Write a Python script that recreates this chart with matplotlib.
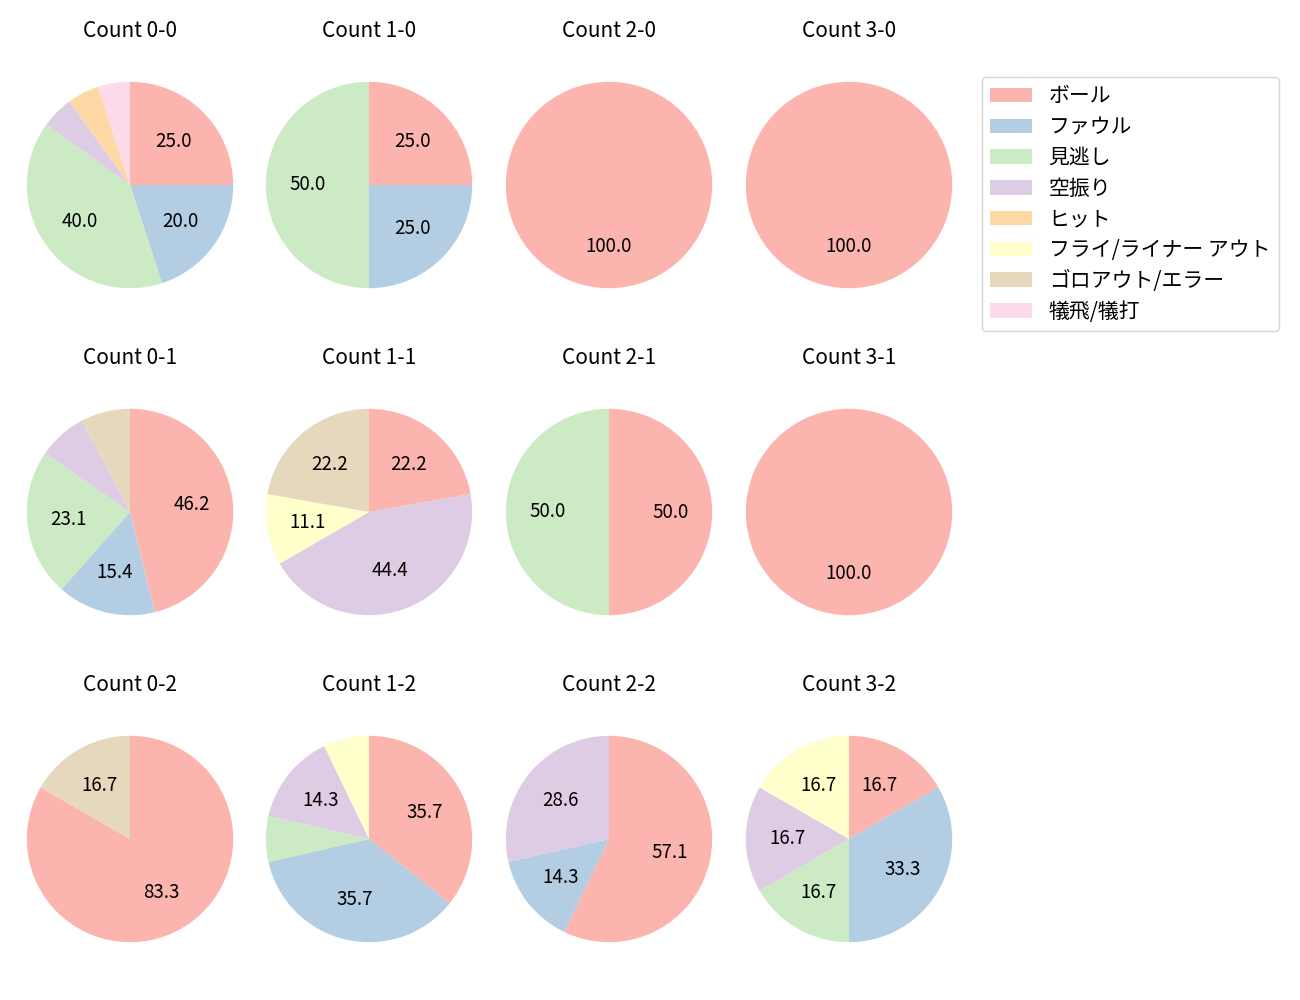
import numpy as np
import matplotlib
matplotlib.use("Agg")
import matplotlib.pyplot as plt
from matplotlib.patches import Patch

plt.rcParams['font.family'] = ['Noto Sans CJK JP', 'DejaVu Sans']
plt.rcParams['font.size'] = 12

labels = ["ボール", "ファウル", "見逃し", "空振り", "ヒット",
          "フライ/ライナー アウト", "ゴロアウト/エラー", "犠飛/犠打"]

# counts per pitch result, order as labels
counts = {
    "0-0": [5, 4, 8, 1, 1, 0, 0, 1],
    "1-0": [1, 1, 2, 0, 0, 0, 0, 0],
    "2-0": [1, 0, 0, 0, 0, 0, 0, 0],
    "3-0": [1, 0, 0, 0, 0, 0, 0, 0],
    "0-1": [6, 2, 3, 1, 0, 0, 1, 0],
    "1-1": [2, 0, 0, 4, 0, 1, 2, 0],
    "2-1": [1, 0, 1, 0, 0, 0, 0, 0],
    "3-1": [1, 0, 0, 0, 0, 0, 0, 0],
    "0-2": [5, 0, 0, 0, 0, 0, 1, 0],
    "1-2": [5, 5, 1, 2, 0, 1, 0, 0],
    "2-2": [4, 1, 0, 2, 0, 0, 0, 0],
    "3-2": [1, 2, 1, 1, 0, 1, 0, 0],
}
strikes = [0, 1, 2]
balls = [0, 1, 2, 3]

colors = plt.cm.Pastel1.colors[:8]

W, H = 1300, 1000
fig = plt.figure(figsize=(13, 10), dpi=100)

cx = [130, 369, 609, 849]
cy = [185, 512, 839]
size = 258

for r, s in enumerate(strikes):
    for c, b in enumerate(balls):
        key = f"{b}-{s}"
        ax = fig.add_axes([(cx[c] - size / 2) / W, 1 - (cy[r] + size / 2) / H,
                           size / W, size / H])
        vals = np.array(counts[key], dtype=float)
        ax.pie(vals, colors=colors, startangle=90, counterclock=False,
               autopct=lambda p: f"{p:.1f}" if p >= 10 else "",
               textprops={'fontsize': 13.5})
        ax.set_title(f"Count {key}", fontsize=15, pad=14)

handles = [Patch(facecolor=col, label=lab) for col, lab in zip(colors, labels)]
fig.legend(handles=handles, loc='upper left', bbox_to_anchor=(982 / W, 1 - 77 / H),
           borderaxespad=0, fontsize=15, labelspacing=0.42)

fig.savefig("out.png")
